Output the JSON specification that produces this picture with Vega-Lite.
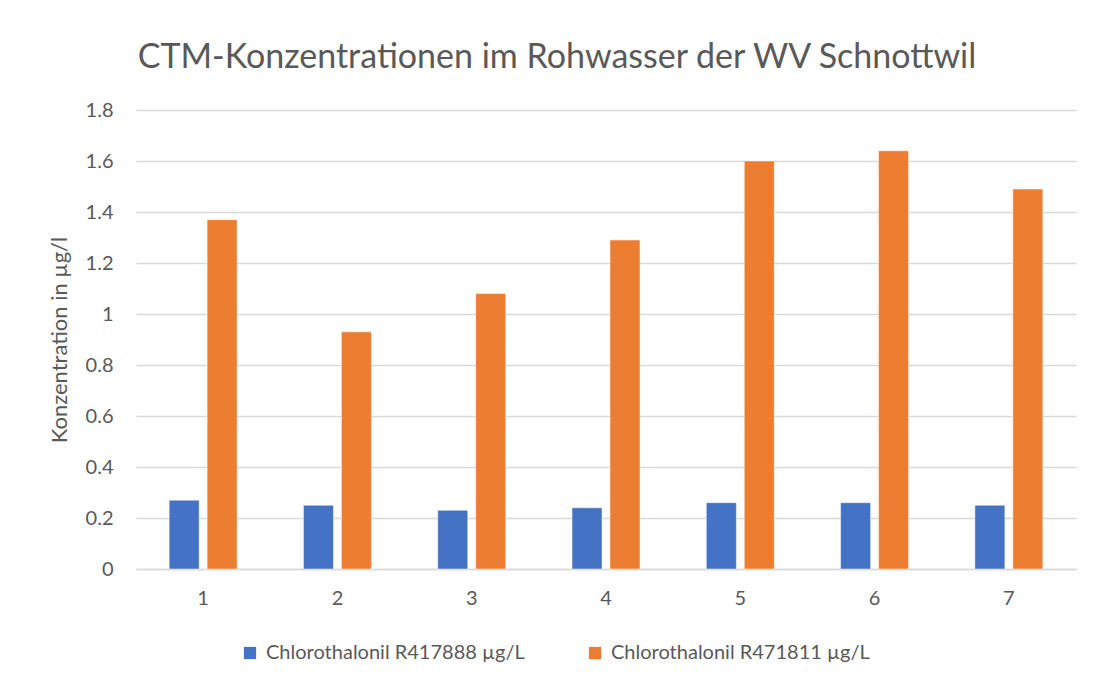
{
  "$schema": "https://vega.github.io/schema/vega-lite/v6.json",
  "width": 940,
  "height": 459,
  "autosize": "none",
  "padding": {"left": 136, "top": 110, "right": 25, "bottom": 115},
  "background": "white",
  "config": {
    "font": "Lato",
    "view": {"stroke": null}
  },
  "title": {
    "text": "CTM-Konzentrationen im Rohwasser der WV Schnottwil",
    "font": "Lato",
    "fontSize": 34,
    "fontWeight": "normal",
    "color": "#595959",
    "anchor": "middle",
    "dx": -49,
    "offset": 25
  },
  "data": {
    "values": [
      {"x": "1", "s": "Chlorothalonil R417888 µg/L", "v": 0.27},
      {"x": "2", "s": "Chlorothalonil R417888 µg/L", "v": 0.25},
      {"x": "3", "s": "Chlorothalonil R417888 µg/L", "v": 0.23},
      {"x": "4", "s": "Chlorothalonil R417888 µg/L", "v": 0.24},
      {"x": "5", "s": "Chlorothalonil R417888 µg/L", "v": 0.26},
      {"x": "6", "s": "Chlorothalonil R417888 µg/L", "v": 0.26},
      {"x": "7", "s": "Chlorothalonil R417888 µg/L", "v": 0.25},
      {"x": "1", "s": "Chlorothalonil R471811 µg/L", "v": 1.37},
      {"x": "2", "s": "Chlorothalonil R471811 µg/L", "v": 0.93},
      {"x": "3", "s": "Chlorothalonil R471811 µg/L", "v": 1.08},
      {"x": "4", "s": "Chlorothalonil R471811 µg/L", "v": 1.29},
      {"x": "5", "s": "Chlorothalonil R471811 µg/L", "v": 1.60},
      {"x": "6", "s": "Chlorothalonil R471811 µg/L", "v": 1.64},
      {"x": "7", "s": "Chlorothalonil R471811 µg/L", "v": 1.49}
    ]
  },
  "mark": {"type": "bar", "stroke": "white", "strokeOpacity": 0.6, "strokeWidth": 0.8},
  "encoding": {
    "x": {
      "field": "x",
      "type": "nominal",
      "sort": null,
      "scale": {"paddingInner": 0.494, "paddingOuter": 0.247},
      "axis": {
        "title": null,
        "labelAngle": 0,
        "labelFont": "Lato",
        "labelFontSize": 20,
        "labelColor": "#595959",
        "labelPadding": 19,
        "ticks": false,
        "domainColor": "#d9d9d9",
        "domainWidth": 1.5,
        "grid": false
      }
    },
    "xOffset": {
      "field": "s",
      "type": "nominal",
      "scale": {"paddingInner": 0.21, "paddingOuter": 0}
    },
    "y": {
      "field": "v",
      "type": "quantitative",
      "scale": {"domain": [0, 1.8], "nice": false},
      "axis": {
        "title": "Konzentration in µg/l",
        "titleFont": "Lato",
        "titleFontSize": 22,
        "titleFontWeight": "normal",
        "titleColor": "#595959",
        "titlePadding": 14,
        "values": [0, 0.2, 0.4, 0.6, 0.8, 1, 1.2, 1.4, 1.6, 1.8],
        "format": "~g",
        "labelFont": "Lato",
        "labelFontSize": 20,
        "labelColor": "#595959",
        "labelPadding": 23,
        "ticks": false,
        "domain": false,
        "gridColor": "#d9d9d9",
        "gridWidth": 1.5
      }
    },
    "color": {
      "field": "s",
      "type": "nominal",
      "scale": {"range": ["#4472C4", "#ED7D31"]},
      "legend": {
        "title": null,
        "orient": "none",
        "direction": "horizontal",
        "legendX": 104,
        "legendY": 533,
        "padding": 0,
        "symbolType": "square",
        "symbolSize": 150,
        "symbolStrokeWidth": 0,
        "labelFont": "Lato",
        "labelFontSize": 20,
        "labelColor": "#595959",
        "labelOffset": 6,
        "columnPadding": 60,
        "labelLimit": 400
      }
    }
  }
}
